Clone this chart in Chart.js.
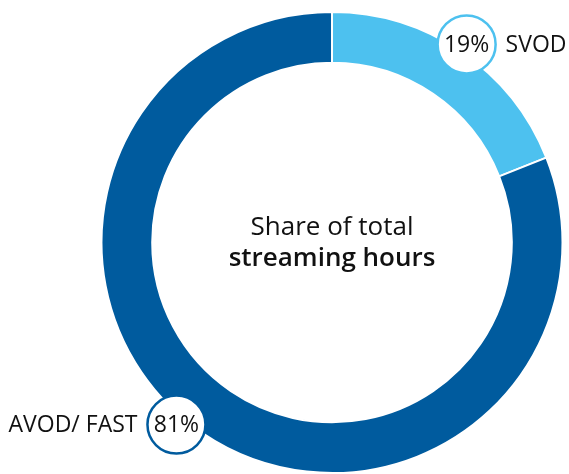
<!DOCTYPE html>
<html>
<head>
<meta charset="utf-8">
<script src="https://cdn.jsdelivr.net/npm/chart.js@4"></script>
<style>
  html, body { margin: 0; padding: 0; background: #fff; }
  #wrap { width: 569px; height: 474px; position: relative; }
</style>
</head>
<body>
<div id="wrap"><canvas id="donut"></canvas></div>
<script>
// Share of total streaming hours
const categories = ['SVOD', 'AVOD/ FAST'];
const shares = [19, 81];
const colors = ['#4dc1ef', '#005b9e'];
const centerLines = ['Share of total', 'streaming hours'];

const FONT = '"Open Sans", sans-serif';

// draws the circled % badges plus the category name next to them
const badgePlugin = {
  id: 'badges',
  afterDatasetsDraw(chart, args, opts) {
    const ctx = chart.ctx;
    const arcs = chart.getDatasetMeta(0).data;
    arcs.forEach((arc, i) => {
      const mid = (arc.startAngle + arc.endAngle) / 2 + (opts.angleShift[i] || 0);
      const r = arc.outerRadius + opts.push;
      const x = arc.x + Math.cos(mid) * r;
      const y = arc.y + Math.sin(mid) * r;
      ctx.save();
      ctx.beginPath();
      ctx.arc(x, y, opts.radius, 0, Math.PI * 2);
      ctx.fillStyle = '#fff';
      ctx.fill();
      ctx.lineWidth = 2.5;
      ctx.strokeStyle = colors[i];
      ctx.stroke();
      ctx.fillStyle = '#111';
      ctx.font = '23px ' + FONT;
      ctx.textAlign = 'center';
      ctx.textBaseline = 'middle';
      ctx.fillText(shares[i] + '%', x, y + 1);
      // name goes on the outer side
      const right = Math.cos(mid) > 0;
      ctx.textAlign = right ? 'left' : 'right';
      ctx.fillText(categories[i], x + (right ? 1 : -1) * (opts.radius + 10), y + 1);
      ctx.restore();
    });
  }
};

const centerPlugin = {
  id: 'centerText',
  afterDraw(chart) {
    const ctx = chart.ctx;
    const arc = chart.getDatasetMeta(0).data[0];
    ctx.save();
    ctx.fillStyle = '#111';
    ctx.textAlign = 'center';
    ctx.textBaseline = 'alphabetic';
    ctx.font = '400 26px ' + FONT;
    ctx.fillText(centerLines[0], arc.x, arc.y - 8);
    ctx.font = '600 26px ' + FONT;
    ctx.fillText(centerLines[1], arc.x, arc.y + 23);
    ctx.restore();
  }
};

new Chart(document.getElementById('donut'), {
  type: 'doughnut',
  data: {
    labels: categories,
    datasets: [{
      data: shares,
      backgroundColor: colors,
      borderColor: '#fff',
      borderWidth: 2,
      hoverOffset: 0
    }]
  },
  options: {
    responsive: true,
    maintainAspectRatio: false,
    animation: false,
    cutout: '78%',
    layout: { padding: { left: 100, right: 5, top: 11, bottom: -1 } },
    plugins: {
      legend: { display: false },
      tooltip: { enabled: false },
      badges: { push: 9, radius: 29, angleShift: [0, 0.11] }
    }
  },
  plugins: [badgePlugin, centerPlugin]
});
</script>
</body>
</html>
